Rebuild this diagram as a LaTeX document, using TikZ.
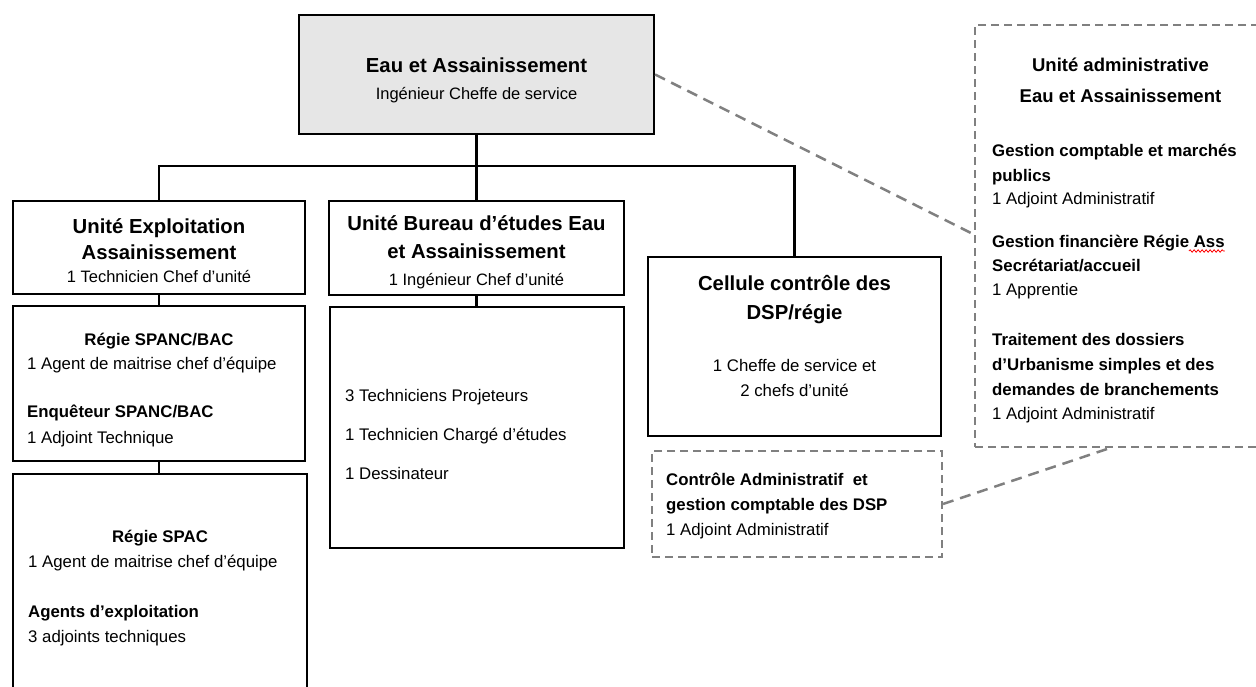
\documentclass[tikz,border=0pt]{standalone}
\usepackage{fontspec}
\setmainfont{Liberation Sans}
\usetikzlibrary{decorations.pathmorphing}
\definecolor{boxgray}{RGB}{230,230,230}
\definecolor{dashgray}{RGB}{128,128,128}
\tikzset{
  box/.style={draw=black, line width=2.2pt, rectangle, inner sep=0pt},
  dbox/.style={draw=dashgray, line width=2pt, dash pattern=on 8pt off 5pt, rectangle, inner sep=0pt},
  dline/.style={draw=dashgray, line width=2.5pt, dash pattern=on 11pt off 7pt},
  conn/.style={draw=black, line width=2.2pt},
  hd/.style={font=\fontsize{20.3}{24}\selectfont\bfseries, inner sep=0pt, anchor=base},
  hdsub/.style={font=\fontsize{16.5}{20}\selectfont, inner sep=0pt, anchor=base},
  adhd/.style={font=\fontsize{18.5}{22}\selectfont\bfseries, inner sep=0pt, anchor=base},
  bd/.style={font=\fontsize{16.8}{20}\selectfont\bfseries, inner sep=0pt, anchor=base west},
  bdc/.style={font=\fontsize{16.8}{20}\selectfont\bfseries, inner sep=0pt, anchor=base},
  tx/.style={font=\fontsize{16.8}{20}\selectfont, inner sep=0pt, anchor=base west},
  txc/.style={font=\fontsize{16.8}{20}\selectfont, inner sep=0pt, anchor=base},
}
\begin{document}
\begin{tikzpicture}[x=1pt,y=-1pt]
\useasboundingbox (0,0) rectangle (1256,686);
\clip (0,0) rectangle (1256,686);

% boxes
\node[box, fill=boxgray, minimum width=355pt, minimum height=119pt] (top) at (476.5,74.5) {};
\node[box, minimum width=292pt, minimum height=93pt] (expl) at (159,247.5) {};
\node[box, minimum width=292pt, minimum height=155pt] (spanc) at (159,383.5) {};
\node[box, minimum width=294pt, minimum height=246pt] (spac) at (160,597) {};
\node[box, minimum width=295pt, minimum height=94pt] (bur) at (476.5,248) {};
\node[box, minimum width=294pt, minimum height=241pt] (burc) at (477,427.5) {};
\node[box, minimum width=293pt, minimum height=179pt] (cell) at (794.5,346.5) {};
\node[dbox, minimum width=290pt, minimum height=106pt] (ctrl) at (797,504) {};
\node[dbox, minimum width=295pt, minimum height=422pt] (admin) at (1122.5,236) {};

% solid connectors
\coordinate (busL) at (159,166);
\coordinate (busR) at (794.5,166);
\draw[conn] (top.south) -- (top.south |- busL);
\draw[conn] (expl.north) |- (busR) -- (cell.north);
\draw[conn] (bur.north) -- (bur.north |- busL);
\draw[conn] (expl.south) -- (expl.south |- spanc.north);
\draw[conn] (bur.south) -- (bur.south |- burc.north);
\draw[conn] (spanc.south) -- (spanc.south |- spac.north);

% dashed connectors
\coordinate (adminIn) at (975,235);
\coordinate (adminBot) at (1113,447);
\draw[dline] (top.east) -- (adminIn);
\draw[dline] (ctrl.east) -- (adminBot);

% texts: top
\node[hd] (t1) at (476.5,72) {Eau et Assainissement};
\node[hdsub] (t2) at (476.5,99) {Ingénieur Cheffe de service};

% exploitation
\node[hd] (e1) at (159,233) {Unité Exploitation};
\node[hd] (e2) at (159,259) {Assainissement};
\node[hdsub] (e3) at (159,282) {1 Technicien Chef d’unité};

% spanc
\node[bdc] (s1) at (159,345) {Régie SPANC/BAC};
\node[tx] (s2) at (27,369) {1 Agent de maitrise chef d’équipe};
\node[bd] (s3) at (27,417) {Enquêteur SPANC/BAC};
\node[tx] (s4) at (27,443) {1 Adjoint Technique};

% spac
\node[bdc] (p1) at (160,542) {Régie SPAC};
\node[tx] (p2) at (28,567) {1 Agent de maitrise chef d’équipe};
\node[bd] (p3) at (28,617) {Agents d’exploitation};
\node[tx] (p4) at (28,642) {3 adjoints techniques};

% bureau
\node[hd] (b1) at (476.5,230) {Unité Bureau d’études Eau};
\node[hd] (b2) at (476.5,258) {et Assainissement};
\node[hdsub] (b3) at (476.5,285) {1 Ingénieur Chef d’unité};
\node[tx] (c1) at (345,401) {3 Techniciens Projeteurs};
\node[tx] (c2) at (345,440) {1 Technicien Chargé d’études};
\node[tx] (c3) at (345,479) {1 Dessinateur};

% cellule
\node[hd] (l1) at (794.5,290) {Cellule contrôle des};
\node[hd] (l2) at (794.5,319) {DSP/régie};
\node[txc] (l3) at (794.5,371) {1 Cheffe de service et};
\node[txc] (l4) at (794.5,396) {2 chefs d’unité};

% controle
\node[bd] (k1) at (666,485) {Contrôle Administratif\ \ et};
\node[bd] (k2) at (666,510) {gestion comptable des DSP};
\node[tx] (k3) at (666,535) {1 Adjoint Administratif};

% admin
\node[adhd] (a1) at (1120.5,71) {Unité administrative};
\node[adhd] (a2) at (1120.5,102) {Eau et Assainissement};
\node[bd] (a3) at (992,156) {Gestion comptable et marchés};
\node[bd] (a4) at (992,181) {publics};
\node[tx] (a5) at (992,204) {1 Adjoint Administratif};
\node[bd] (a6) at (992,247) {Gestion financière Régie Ass};
\node[bd] (a7) at (992,271) {Secrétariat/accueil};
\node[tx] (a8) at (992,295) {1 Apprentie};
\node[bd] (a9) at (992,345) {Traitement des dossiers};
\node[bd] (a10) at (992,370) {d’Urbanisme simples et des};
\node[bd] (a11) at (992,395) {demandes de branchements};
\node[tx] (a12) at (992,419) {1 Adjoint Administratif};
\draw[red, line width=0.8pt, decorate, decoration={snake, amplitude=1.2pt, segment length=4pt}] (a6.base east) ++(-36,4) -- ++(36,0);
\end{tikzpicture}
\end{document}
